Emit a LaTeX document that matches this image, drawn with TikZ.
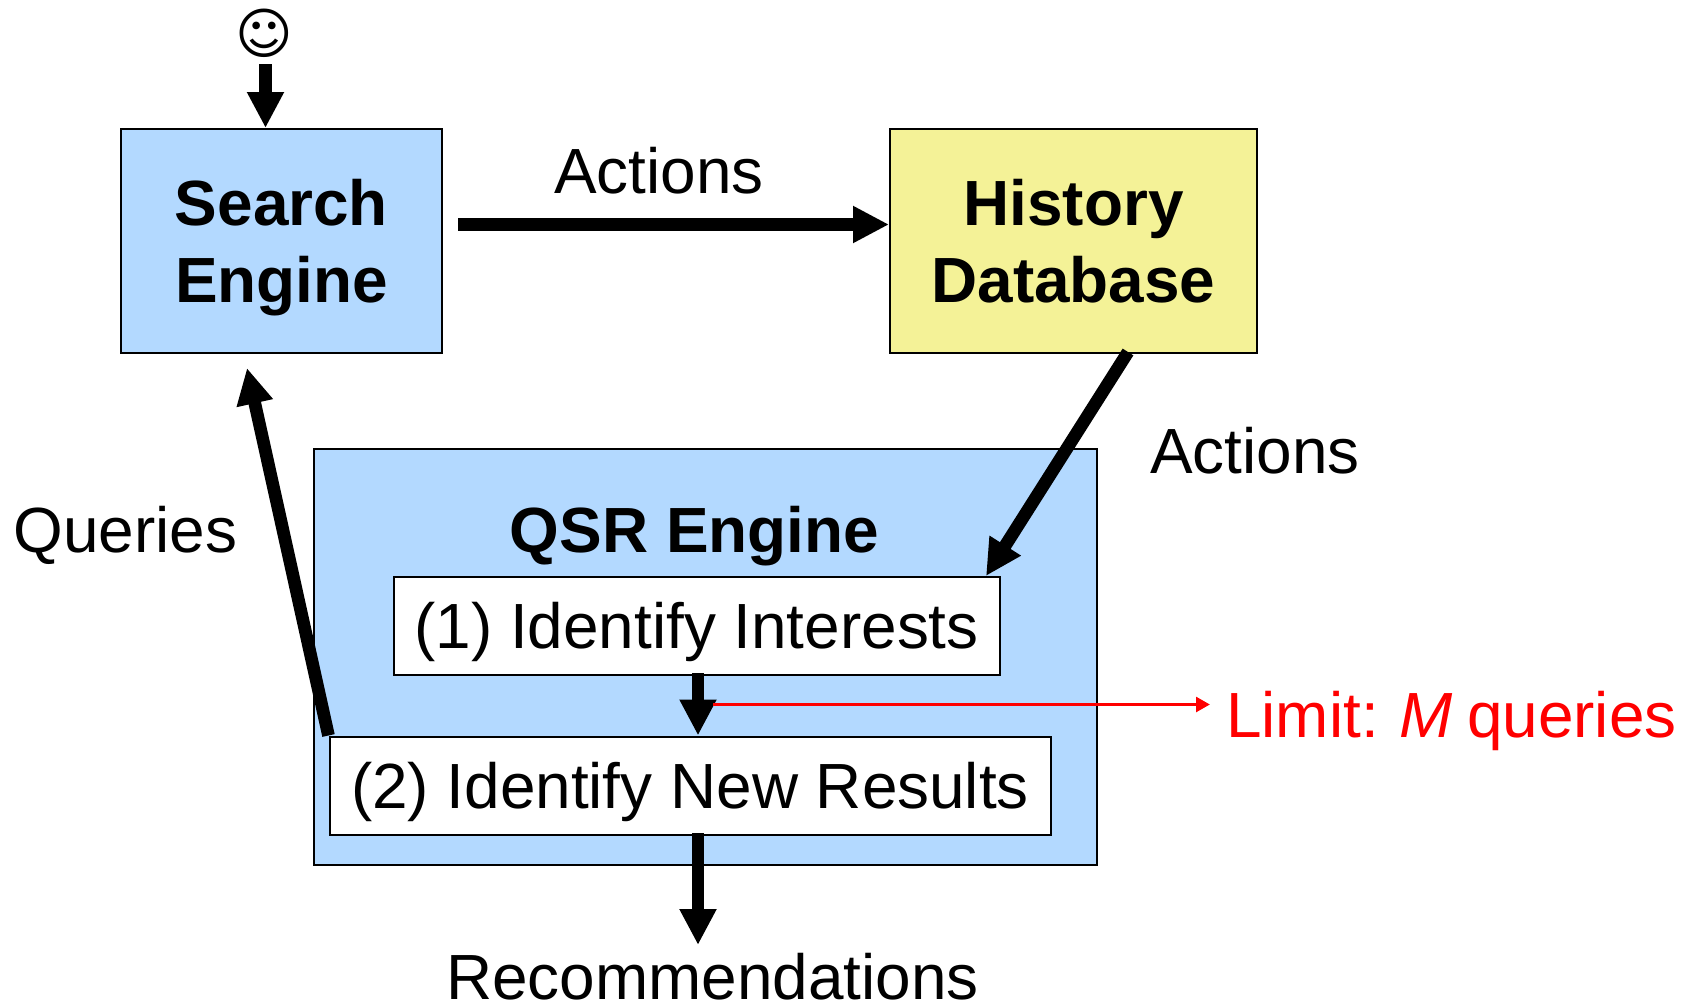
\documentclass[tikz,border=0pt]{standalone}
\usepackage{fontspec}
\setmainfont{Liberation Sans}
\newfontfamily\smileyfont{DejaVu Sans}
\usetikzlibrary{arrows.meta}
\definecolor{engineblue}{RGB}{179,217,255}
\definecolor{dbyellow}{RGB}{244,242,151}
\tikzset{
	boxtext/.style={font=\fontsize{47.9}{58}\selectfont},
	labeltext/.style={boxtext,anchor=base west,inner sep=0pt},
	box/.style={draw,line width=1.5pt,boxtext,align=center,inner sep=0pt,text depth=0pt},
	bigarrow/.style={line width=9.5pt,-{Triangle[length=27pt,width=26pt]}},
	limitarrow/.style={draw=red,line width=2.8pt,-{Triangle[length=10.5pt,width=11pt]}}
}

\begin{document}
\begin{tikzpicture}[x=0.75pt,y=0.75pt,yscale=-1,xscale=1]
	\useasboundingbox (0,0) rectangle (1685,1003);
	
	% Boxes
	\node (search) [box,fill=engineblue,minimum width=240.75pt,minimum height=168pt] at (281.5,241) {\textbf{Search}\\\textbf{Engine}};
	\node (history) [box,fill=dbyellow,minimum width=275.25pt,minimum height=168pt] at (1073.5,241) {\textbf{History}\\\textbf{Database}};
	\node (qsr) [box,fill=engineblue,minimum width=587.25pt,minimum height=312pt] at (705.5,656.5) {};
	\node (identify) [box,fill=white,minimum width=454.5pt,minimum height=73.5pt] at (696.5,625.5) {(1) Identify Interests};
	\node (newresults) [box,fill=white,minimum width=540.75pt,minimum height=73.5pt] at (690,785.5) {(2) Identify New Results};
	
	% Text Node
	\node (smile) [inner sep=0pt,font=\smileyfont\fontsize{41.5}{41.5}\selectfont] at (264.5,33) {☺};
	\node (actionsa) [labeltext] at (554,193) {Actions};
	\node (actionsb) [labeltext] at (1150,473) {Actions};
	\node (queries) [labeltext] at (13.5,552) {Queries};
	\node (qsrtitle) [labeltext,anchor=base] at (694.5,552) {\textbf{QSR Engine}};
	\node (limit) [labeltext,text=red] at (1226,737) {Limit:\kern-2.4pt{} \textit{M}\kern-2.4pt{} queries};
	\node (recs) [labeltext] at (446,999) {Recommendations};
	
	% Free ends
	\coordinate (smiletail) at (265.5,64);
	\coordinate (actionstail) at (458,224.5);
	\coordinate (historytail) at (1128,352);
	\coordinate (identifyhead) at (986,576);
	\coordinate (searchhead) at (247,368);
	\coordinate (midtail) at (698,673);
	\coordinate (recstail) at (698,833);
	\coordinate (recshead) at (698,945);
	\coordinate (limittail) at (713,704.5);
	\coordinate (limithead) at (1210,704.5);
	
	% Connectors
	\draw[bigarrow] (smiletail) -- (smiletail |- search.north);
	\draw[bigarrow] (actionstail) -- (actionstail -| history.west);
	\draw[bigarrow] (historytail) -- (identifyhead);
	\draw[bigarrow] (newresults.north west) -- (searchhead);
	\draw[bigarrow] (midtail) -- (midtail |- newresults.north);
	\draw[bigarrow] (recstail) -- (recshead);
	\draw[limitarrow] (limittail) -- (limithead);
\end{tikzpicture}
\end{document}
